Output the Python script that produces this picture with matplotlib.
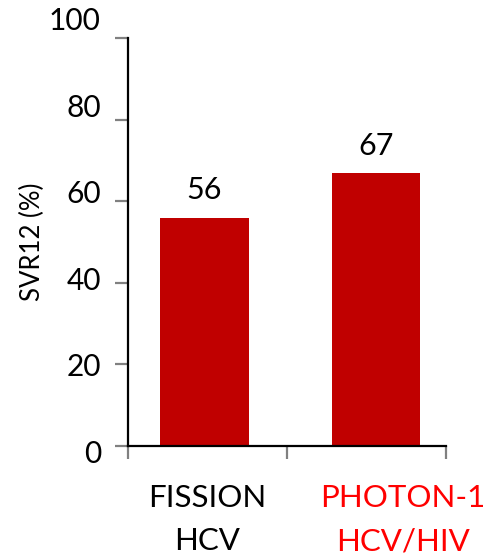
import matplotlib
matplotlib.use("Agg")
import matplotlib.pyplot as plt
from matplotlib.transforms import ScaledTranslation

plt.rcParams['font.family'] = ['Lato', 'DejaVu Sans']

# SVR12 rates by study
studies = ["FISSION\nHCV", "PHOTON-1\nHCV/HIV"]
svr12 = [56, 67]
label_colors = ["black", "#FF0000"]
yticks = [0, 20, 40, 60, 80, 100]

bar_x = [0.48, 1.56]
text_x = [0.50, 1.73]

fig = plt.figure(figsize=(4.87, 5.56), dpi=100)
ax = fig.add_axes([0.2628, 0.1978, 0.653, 0.7338])

ax.bar(bar_x, svr12, width=0.556, color="#C00000")

for x, v in zip(bar_x, svr12):
    ax.annotate(str(v), (x, v), xytext=(0, 13), textcoords="offset points",
                ha="center", va="baseline", fontsize=22)

ax.set_xlim(0, 2)
ax.set_ylim(0, 100)
ax.set_xticks([0, 1, 2])
ax.set_xticklabels([])
ax.set_yticks(yticks)
ax.set_yticklabels([str(t) for t in yticks], fontsize=21.5)
ax.set_ylabel("SVR12 (%)", fontsize=18.5, labelpad=3)

for s in ["top", "right"]:
    ax.spines[s].set_visible(False)
for s in ["left", "bottom"]:
    ax.spines[s].set_linewidth(1.6)
    ax.spines[s].set_color("black")
ax.tick_params(axis="both", direction="out", length=9.5, width=1.6,
               color="#808080")
ax.tick_params(axis="y", pad=10)

# tick labels sit on a slightly wider spacing than the ticks
for i, lab in enumerate(ax.get_yticklabels()):
    dy = (4 - 3.6 * i) / 72.0
    lab.set_transform(lab.get_transform() + ScaledTranslation(0, -dy, fig.dpi_scale_trans))

# two-line category labels under the axis
trans = ax.get_xaxis_transform()
for x, name, c in zip(text_x, studies, label_colors):
    line1, line2 = name.split("\n")
    ax.text(x, -0.1495, line1, transform=trans, ha="center", va="baseline",
            fontsize=22.5, color=c, clip_on=False)
    ax.text(x, -0.255, line2, transform=trans, ha="center", va="baseline",
            fontsize=22.5, color=c, clip_on=False)

fig.savefig("out.png", dpi=100)
